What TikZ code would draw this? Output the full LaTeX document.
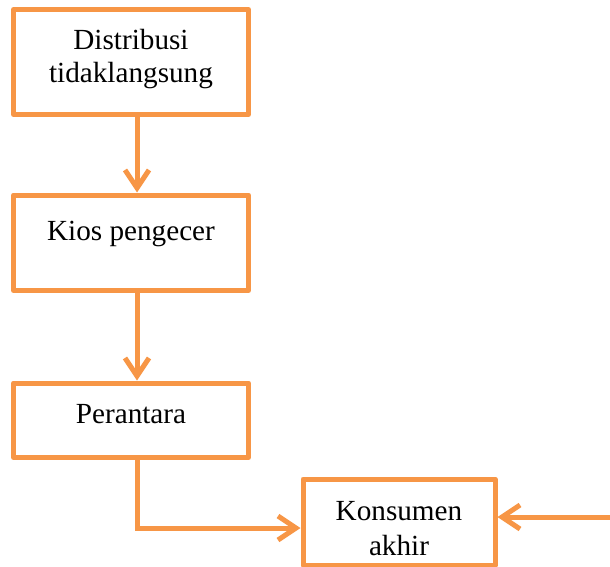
\documentclass[tikz,border=0pt]{standalone}
\usepackage{fontspec}
\setmainfont{Liberation Serif}
\usetikzlibrary{arrows.meta,positioning,calc}

\begin{document}
\begin{tikzpicture}
\definecolor{flow orange}{RGB}{247,150,70}
\colorlet{box edge}{flow orange}
\tikzset{
     outline/.style={draw=box edge, line width=2.5pt, line join=round, inner sep=0pt},
     link/.style={draw=box edge, line width=2.5pt, -{Straight Barb[length=9pt,width=12pt]}},
     caption/.style={anchor=base, align=center, font=\fontsize{14.6}{16.5}\selectfont}}

\useasboundingbox (0,0) rectangle (305pt,-283.5pt);

% The boxes
\node (distribusi) at (65.5pt,-31pt) [outline, minimum width=117.5pt, minimum height=52.5pt] {};
\node (kios) [below=37.75pt of distribusi, outline, minimum width=117.5pt, minimum height=47.75pt] {};
\node (perantara) [below=43.75pt of kios, outline, minimum width=117.5pt, minimum height=37.25pt] {};
\node (konsumen) [below right=8.25pt and 24.75pt of perantara, outline, minimum width=96pt, minimum height=43pt] {};

% The labels
\node (distribusi label) at ([yshift=-10.5pt]distribusi.center) [caption] {Distribusi\\tidaklangsung};
\node (kios label) at ([yshift=1.25pt]kios.center) [caption] {Kios pengecer};
\node (perantara label) at ([yshift=-1.5pt]perantara.center) [caption] {Perantara};
\node (konsumen label) at ([yshift=-16.5pt]konsumen.center) [caption, font=\fontsize{14.6}{17.5}\selectfont] {Konsumen\\akhir};

% The arrows
\coordinate (sumber) at ($(konsumen.east)+(57.5pt,2.5pt)$);
\draw [link] ([xshift=3pt]distribusi.south) -- ([xshift=3pt]kios.north);
\draw [link] ([xshift=3pt]kios.south) -- ([xshift=3pt]perantara.north);
\draw [link] ([xshift=3pt]perantara.south) |- ([yshift=-3pt]konsumen.west);
\draw [link] (sumber) -- ([yshift=2.5pt]konsumen.east);
\end{tikzpicture}
\end{document}
